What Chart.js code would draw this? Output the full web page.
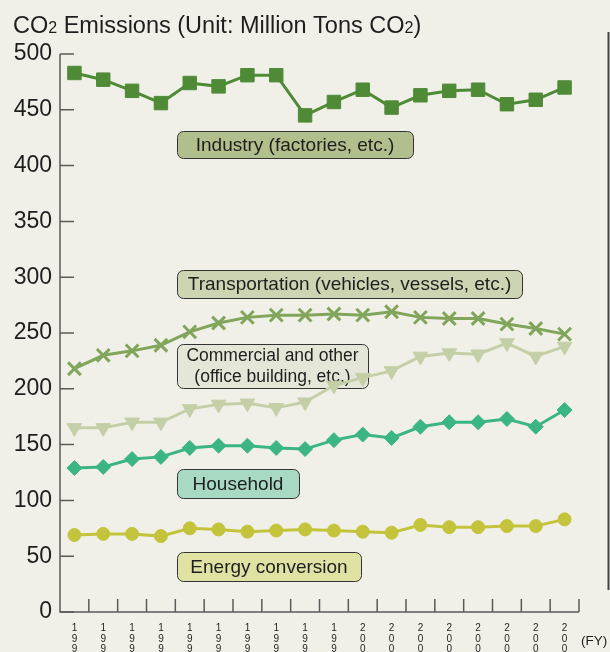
<!DOCTYPE html>
<html>
<head>
<meta charset="utf-8">
<script src="https://cdn.jsdelivr.net/npm/chart.js@4/dist/chart.umd.min.js"></script>
<style>
  html, body { margin: 0; padding: 0; background: #f0f0e8; overflow: hidden; }
  #chart { display: block; }
</style>
</head>
<body>
<canvas id="chart" width="610" height="680"></canvas>
<script>
// Fiscal years 1990-2007
const years = ['1990', '1991', '1992', '1993', '1994', '1995', '1996', '1997', '1998',
  '1999', '2000', '2001', '2002', '2003', '2004', '2005', '2006', '2007'];

const industry = [483, 477, 467, 456, 474, 471, 481, 481, 445, 457, 468, 452, 463, 467, 468, 455, 459, 470];
const transportation = [218, 230, 234, 239, 251, 259, 264, 266, 266, 267, 266, 269, 264, 263, 263, 258, 254, 249];
const commercial = [165, 165, 170, 170, 182, 186, 187, 183, 188, 203, 210, 216, 229, 232, 231, 241, 229, 238];
const household = [129, 130, 137, 139, 147, 149, 149, 147, 146, 154, 159, 156, 166, 170, 170, 173, 166, 181];
const energy = [69, 70, 70, 68, 75, 74, 72, 73, 74, 73, 72, 71, 78, 76, 76, 77, 77, 83];

const yTicks = [0, 50, 100, 150, 200, 250, 300, 350, 400, 450, 500];

const FONT = '"Liberation Sans", Arial, sans-serif';
const INK = '#1e1e1e';
const AXIS = '#5a5a5a';

// label boxes drawn next to the lines
const boxes = [
  { lines: ['Industry (factories, etc.)'], x: 177, y: 131, w: 236, h: 27, fill: '#b0bf8b', size: 19 },
  { lines: ['Transportation (vehicles, vessels, etc.)'], x: 177, y: 270, w: 345, h: 28, fill: '#cdd4b2', size: 19 },
  { lines: ['Commercial and other', '(office building, etc.)'], x: 177, y: 344, w: 191, h: 44, fill: '#e4e6d8', size: 17.5 },
  { lines: ['Household'], x: 177, y: 469, w: 122, h: 29, fill: '#a8d9c3', size: 19 },
  { lines: ['Energy conversion'], x: 177, y: 552, w: 184, h: 29, fill: '#dfe2a3', size: 19 },
];

function roundRect(ctx, x, y, w, h, r) {
  ctx.beginPath();
  ctx.moveTo(x + r, y);
  ctx.arcTo(x + w, y, x + w, y + h, r);
  ctx.arcTo(x + w, y + h, x, y + h, r);
  ctx.arcTo(x, y + h, x, y, r);
  ctx.arcTo(x, y, x + w, y, r);
  ctx.closePath();
}

const decor = {
  id: 'decor',
  beforeDatasetsDraw(chart) {
    const { ctx, scales: { x, y } } = chart;
    ctx.save();

    // axis lines
    ctx.strokeStyle = AXIS;
    ctx.lineWidth = 1.5;
    ctx.beginPath();
    ctx.moveTo(x.left, y.getPixelForValue(500));
    ctx.lineTo(x.left, y.bottom);
    ctx.lineTo(x.right, y.bottom);
    ctx.stroke();

    // inward ticks on y
    ctx.beginPath();
    yTicks.forEach(v => {
      const py = y.getPixelForValue(v);
      ctx.moveTo(x.left, py);
      ctx.lineTo(x.left + 14, py);
    });
    // upward ticks between years on x
    years.forEach((_, i) => {
      const bx = i < years.length - 1 ? (x.getPixelForValue(i) + x.getPixelForValue(i + 1)) / 2 : x.right;
      ctx.moveTo(bx, y.bottom);
      ctx.lineTo(bx, y.bottom - 13);
    });
    ctx.stroke();

    // label boxes
    boxes.forEach(b => {
      roundRect(ctx, b.x + 0.5, b.y + 0.5, b.w, b.h, 6);
      ctx.fillStyle = b.fill;
      ctx.fill();
      ctx.strokeStyle = '#333';
      ctx.lineWidth = 1;
      ctx.stroke();
      ctx.fillStyle = INK;
      ctx.font = b.size + 'px ' + FONT;
      ctx.textAlign = 'center';
      ctx.textBaseline = 'middle';
      const lh = 21;
      const cy = b.y + b.h / 2 + 1 - (b.lines.length - 1) * lh / 2;
      b.lines.forEach((t, k) => ctx.fillText(t, b.x + b.w / 2, cy + k * lh));
    });

    // title with subscripts
    ctx.textAlign = 'left';
    ctx.textBaseline = 'alphabetic';
    let tx = 13;
    const parts = [['CO', 23.5], ['2', 16], [' Emissions (Unit: Million Tons CO', 23.5], ['2', 16], [')', 23.5]];
    parts.forEach(([t, s]) => {
      ctx.font = s + 'px ' + FONT;
      ctx.fillText(t, tx, 33);
      tx += ctx.measureText(t).width;
    });

    // (FY)
    ctx.font = '13.5px ' + FONT;
    ctx.fillText('(FY)', 581, 645);

    // edge of neighbouring panel
    ctx.strokeStyle = '#444';
    ctx.lineWidth = 2;
    ctx.beginPath();
    ctx.moveTo(608.5, 32);
    ctx.lineTo(608.5, 590);
    ctx.stroke();

    ctx.restore();
  }
};

const lineSet = (label, data, color, style, radius, extra) => Object.assign({
  label,
  data,
  borderColor: color,
  backgroundColor: color,
  pointBackgroundColor: color,
  pointBorderColor: color,
  pointStyle: style,
  pointRadius: radius,
  pointBorderWidth: 1,
  borderWidth: 3,
  tension: 0,
  clip: false,
}, extra || {});

new Chart(document.getElementById('chart'), {
  type: 'line',
  data: {
    labels: years,
    datasets: [
      lineSet('Energy conversion', energy, '#c3c43c', 'circle', 6.5),
      lineSet('Household', household, '#3cb584', 'rectRot', 7.5),
      lineSet('Commercial and other', commercial, '#c5cfa7', 'triangle', 8.5, { pointRotation: 180 }),
      lineSet('Transportation', transportation, '#80a55b', 'crossRot', 9, { pointBorderWidth: 3 }),
      lineSet('Industry', industry, '#4f8a36', 'rect', 9.5),
    ],
  },
  options: {
    responsive: false,
    animation: false,
    layout: { padding: { top: 54, right: 31, left: 0, bottom: 0 } },
    plugins: { legend: { display: false }, tooltip: { enabled: false } },
    scales: {
      x: {
        offset: true,
        grid: { display: false, drawTicks: false },
        border: { display: false },
        afterFit: s => { s.height = 68; },
        ticks: {
          autoSkip: false,
          maxRotation: 0,
          padding: 11,
          color: INK,
          font: { family: FONT, size: 10, lineHeight: 1.05 },
          callback: (v, i) => years[i].split(''),
        },
      },
      y: {
        min: 0,
        max: 500,
        grid: { display: false, drawTicks: false },
        border: { display: false },
        afterFit: s => { s.width = 60; },
        afterBuildTicks: s => { s.ticks = yTicks.map(v => ({ value: v })); },
        ticks: {
          padding: 8,
          color: INK,
          font: { family: FONT, size: 23 },
        },
      },
    },
  },
  plugins: [decor],
});
</script>
</body>
</html>
